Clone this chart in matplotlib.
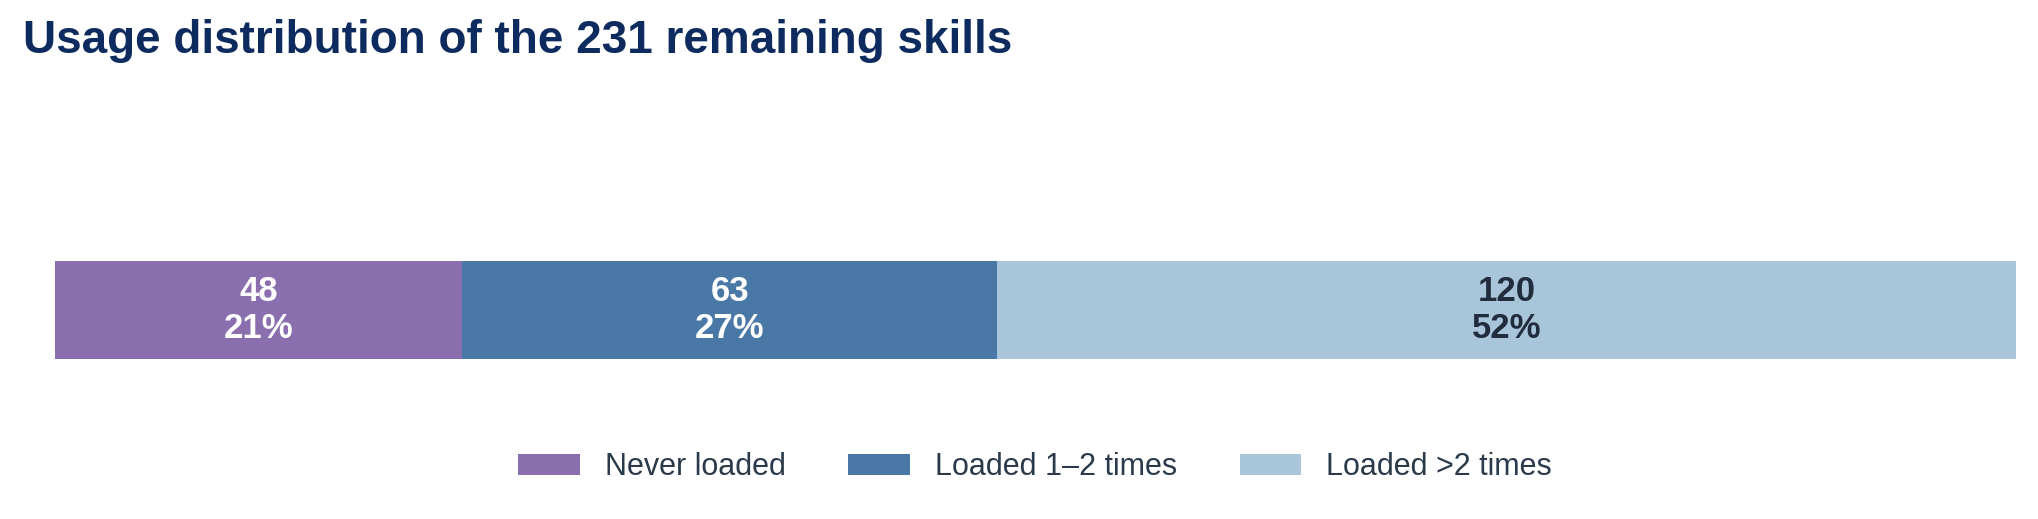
import matplotlib
matplotlib.use("Agg")
import matplotlib.pyplot as plt
from matplotlib.patches import Patch

plt.rcParams['font.family'] = ['Liberation Sans', 'DejaVu Sans']

categories = ["Never loaded", "Loaded 1\u20132 times", "Loaded >2 times"]
counts = [48, 63, 120]
percents = ["21%", "27%", "52%"]
colors = ["#8a6fae", "#4a78a6", "#a9c5da"]
label_colors = ["white", "white", "#1f2d3d"]
total = 231

W, H = 2038, 519
fig = plt.figure(figsize=(W / 100, H / 100), dpi=100)
ax = fig.add_axes([55 / W, (H - 359) / H, 1961 / W, 98 / H])

left = 0
for cat, c, p, col, lc in zip(categories, counts, percents, colors, label_colors):
    ax.barh(0, c, left=left, height=1.0, color=col, edgecolor='none')
    ax.text(left + c / 2, 0, f"{c}\n{p}", ha='center', va='center',
            fontsize=25, fontweight='bold', color=lc, linespacing=1.12)
    left += c

ax.set_xlim(0, total)
ax.set_ylim(-0.5, 0.5)
ax.axis('off')

fig.text(23 / W, 1 - 53 / H, "Usage distribution of the 231 remaining skills",
         fontsize=33, fontweight='bold', color='#0d2b5e', ha='left', va='baseline')

handles = [Patch(facecolor=col, edgecolor='none') for col in colors]
fig.legend(handles, categories, loc='center', bbox_to_anchor=(1035 / W, 1 - 467 / H),
           ncol=3, frameon=False, fontsize=22, handlelength=2.0, handleheight=0.7,
           handletextpad=0.82, columnspacing=2.06, borderpad=0, labelcolor='#2b3a4a')

fig.savefig("out.png", dpi=100, facecolor='white')
